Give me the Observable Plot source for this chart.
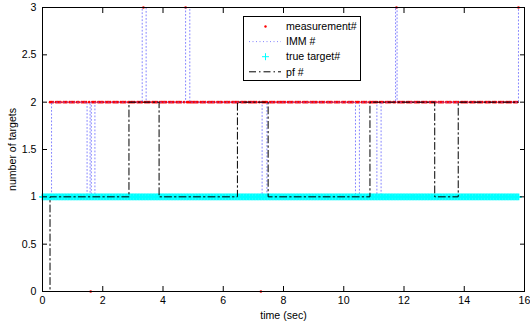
<!DOCTYPE html>
<html><head><meta charset="utf-8">
<script src="https://cdn.jsdelivr.net/npm/d3@7"></script>
<script src="https://cdn.jsdelivr.net/npm/@observablehq/plot@0.6"></script>
<style>
body{margin:0;background:#fff;}
#chart{width:530px;height:325px;}
</style></head><body><div id="chart"></div>
<script>
// ---- data ----
const sampleStep = 0.05;           // seconds between samples
const measurementCounts =
  "11111222122221222122" + "22122122221202221222" + "21222212222122221222" +
  "22122223222212222122" + "22212222122221232222" + "22221222212222212222" +
  "12222122222122221222" + "22212022221222212222" + "22122221222212222122" +
  "22212222122221222212" + "22122221222122221222" + "22212221222212232222" +
  "21222212222122221222" + "22122221222212222122" + "22212222122221222212" +
  "22122221222212223";
const immTimes  = [0, 0.3, 1.48, 1.58, 1.62, 1.74, 3.31, 3.44, 4.75, 4.89, 7.29, 7.45, 10.39, 10.52, 11.1, 11.24, 11.72, 11.77, 15.8];
const immValues = [1, 2,   1,    2,    1,    2,    3,    2,    3,    2,    1,    2,    1,     2,     1,    2,     3,     2,     3];
const pfTimes  = [0, 0.25, 2.87, 3.87, 6.47, 7.49, 10.87, 13.02, 13.8, 15.8];
const pfValues = [0, 1,    2,    1,    2,    1,    2,     1,     2,    2];
const trueTargetStart = 0, trueTargetEnd = 15.8, trueTargetValue = 1;
const xTicks = [0, 2, 4, 6, 8, 10, 12, 14, 16];
const yTicks = [0, 0.5, 1, 1.5, 2, 2.5, 3];
const legendLabels = ["measurement#", "IMM #", "true target#", "pf #"];
const xLabel = "time (sec)", yLabel = "number of targets";

// ---- tables ----
const meas = measurementCounts.split("").map((c, i) => ({t: +(i * sampleStep).toFixed(2), n: +c}));
const truth = meas.filter(d => d.t >= trueTargetStart && d.t <= trueTargetEnd).map(d => ({t: d.t, n: trueTargetValue}));
const imm = immTimes.map((t, i) => ({t, n: immValues[i]}));
const pf = pfTimes.map((t, i) => ({t, n: pfValues[i]}));

const font = "'Liberation Sans', Arial, Helvetica, sans-serif";
const dashDot = "7,3,1.5,3";
const dotted = "1,2.5";
const immColor = "#6666ff";

const chart = Plot.plot({
  width: 530, height: 325,
  marginLeft: 42, marginRight: 6, marginTop: 7, marginBottom: 34,
  style: {fontFamily: font, fontSize: "10.6px", color: "black", background: "white"},
  x: {domain: [0, 16]},
  y: {domain: [0, 3]},
  marks: [
    Plot.dot(meas, {x: "t", y: "n", r: 1.3, fill: "red", stroke: null}),
    Plot.line(imm, {x: "t", y: "n", curve: "step-after", stroke: immColor, strokeWidth: 0.8, strokeDasharray: dotted}),
    Plot.dot(truth, {x: "t", y: "n", symbol: "plus", r: 2.3, stroke: "cyan", strokeWidth: 1.8}),
    Plot.line(pf, {x: "t", y: "n", curve: "step-after", stroke: "black", strokeWidth: 1, strokeDasharray: dashDot}),
    Plot.frame({stroke: "black", strokeWidth: 1}),
    Plot.axisX({ticks: xTicks, anchor: "bottom", tickSize: 0, tickPadding: 5, tickFormat: d => String(d),
      label: xLabel, labelAnchor: "center", labelArrow: "none", labelOffset: 27}),
    Plot.axisX({ticks: xTicks, anchor: "bottom", tickSize: -5, tickFormat: () => "", label: null}),
    Plot.axisX({ticks: xTicks, anchor: "top", tickSize: -5, tickFormat: () => "", label: null}),
    Plot.axisY({ticks: yTicks, anchor: "left", tickSize: 0, tickPadding: 6, tickFormat: d => String(d),
      label: yLabel, labelAnchor: "center", labelArrow: "none", labelOffset: 34}),
    Plot.axisY({ticks: yTicks, anchor: "left", tickSize: -5, tickFormat: () => "", label: null}),
    Plot.axisY({ticks: yTicks, anchor: "right", tickSize: -5, tickFormat: () => "", label: null})
  ]
});
document.getElementById("chart").appendChild(chart);

// ---- legend box (MATLAB style) ----
const svg = d3.select(chart);
const lg = svg.append("g").attr("font-family", font).attr("font-size", "10.6px").attr("text-anchor", "start");
lg.append("rect").attr("x", 243.5).attr("y", 16.5).attr("width", 117).attr("height", 64)
  .attr("fill", "white").attr("stroke", "black").attr("stroke-width", 1);
const rowY = i => 26.5 + i * 15.1;
legendLabels.forEach((label, i) => {
  const y = rowY(i);
  if (i === 0) lg.append("circle").attr("cx", 265.5).attr("cy", y).attr("r", 1.2).attr("fill", "red");
  if (i === 1) lg.append("line").attr("x1", 249).attr("x2", 281).attr("y1", y).attr("y2", y)
    .attr("stroke", immColor).attr("stroke-width", 0.8).attr("stroke-dasharray", dotted);
  if (i === 2) lg.append("path").attr("d", `M262,${y}h7M265.5,${y - 3.5}v7`).attr("stroke", "cyan");
  if (i === 3) lg.append("line").attr("x1", 249).attr("x2", 281).attr("y1", y).attr("y2", y)
    .attr("stroke", "black").attr("stroke-dasharray", dashDot);
  lg.append("text").attr("x", 286).attr("y", y).attr("dy", "0.35em").attr("fill", "black").text(label);
});
</script>
</body></html>
